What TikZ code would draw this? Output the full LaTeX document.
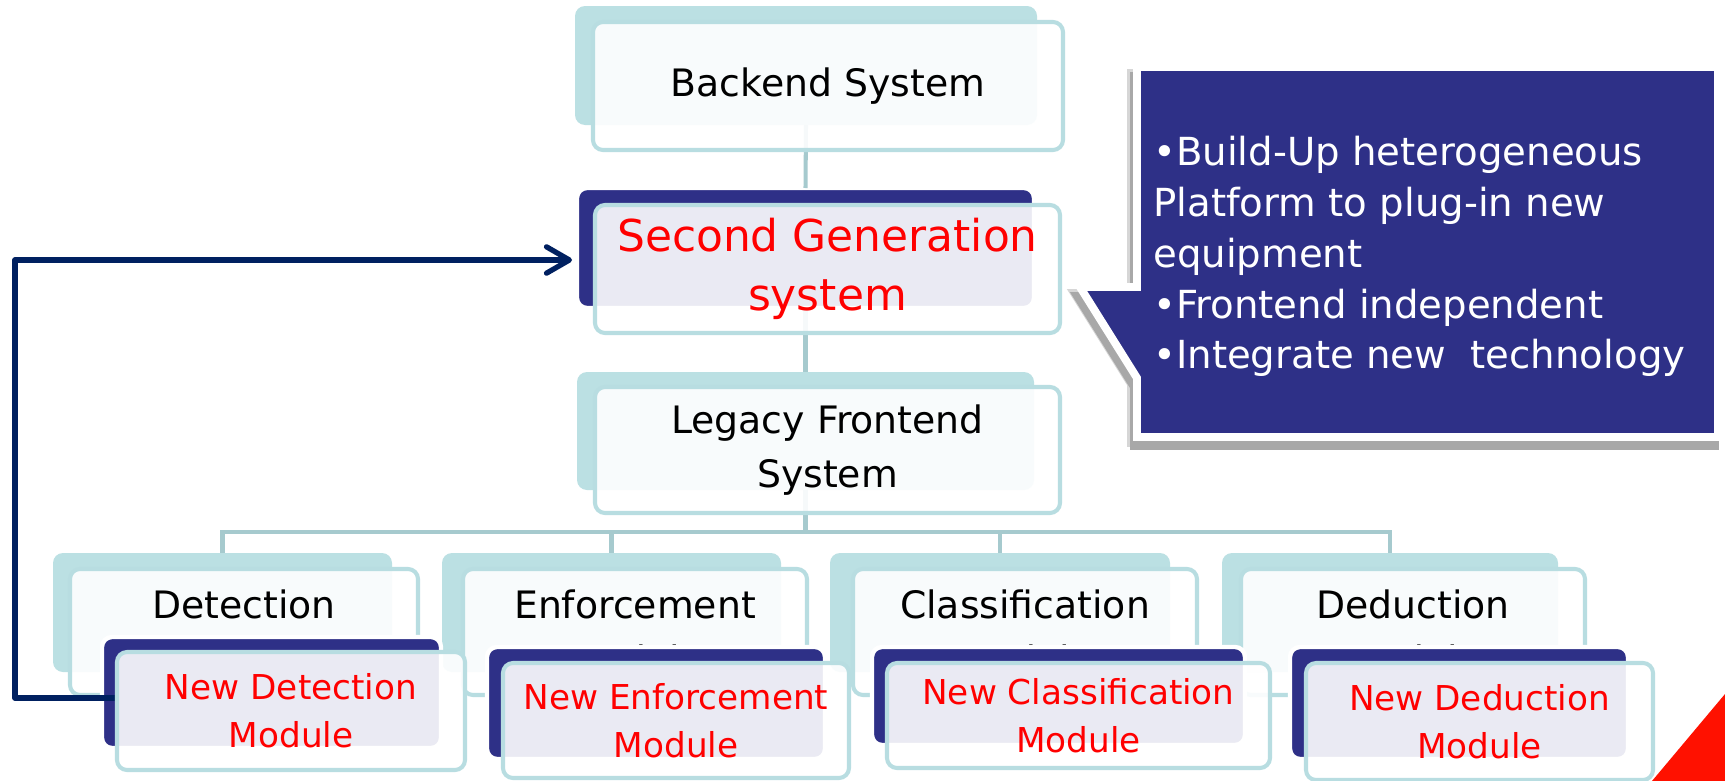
\documentclass[tikz,border=0pt]{standalone}
\usepackage{fontspec}
\setmainfont{DejaVu Sans}
\usetikzlibrary{arrows.meta,calc}
\definecolor{tealback}{HTML}{BBE0E3}
\definecolor{tealedge}{HTML}{B8DDE1}
\definecolor{linkcol}{HTML}{A6CACE}
\definecolor{navy}{HTML}{2E3087}
\definecolor{flowcol}{HTML}{002060}
\definecolor{shadowcol}{HTML}{A8A8A8}
\definecolor{shadowsoft}{HTML}{D6D6D6}
\definecolor{cornerred}{HTML}{FF1100}
\begin{document}
\begin{tikzpicture}[x=0.02cm,y=-0.02cm,
  boxsize/.style 2 args={minimum width=#1*0.02cm, minimum height=#2*0.02cm},
  base/.style={rectangle, rounded corners=0.2cm, inner sep=0pt, outer sep=0pt},
  backlight/.style={base, fill=tealback},
  backdark/.style={base, fill=navy, draw=white, line width=2.5pt},
  front/.style={base, draw=tealedge, line width=2.3pt, fill=white,
    fill opacity=0.9, text opacity=1, align=center},
  maintext/.style={font=\fontsize{21.5}{31}\selectfont, text=black},
  bigred/.style={font=\fontsize{25}{34}\selectfont, text=red},
  newtext/.style={font=\fontsize{19.5}{27.2}\selectfont, text=red},
  link/.style={draw=linkcol, line width=2.3pt},
  flow/.style={draw=flowcol, line width=3pt, line join=round,
    -{Straight Barb[length=13pt, width=15pt, line cap=round, line join=round]}},
  calloutshape/.style={line width=4.5pt, line join=miter},
]
\useasboundingbox (0,0) rectangle (1725,781);
\fill[white] (0,0) rectangle (1725,781);

% decorative corner
\fill[cornerred] (1652,781) -- (1725,694) -- (1725,781) -- cycle;

% back plates of the hierarchy
\node[backlight, boxsize={462}{119}] (bkBack) at (806,65.5) {};
\node[backdark,  boxsize={457}{120}] (bkSec)  at (805.5,248) {};
\node[backlight, boxsize={457}{118}] (bkLeg)  at (805.5,431) {};
\node[backlight, boxsize={339}{119}] (bkDet)  at (222.5,612.5) {};
\node[backlight, boxsize={339}{119}] (bkEnf)  at (611.5,612.5) {};
\node[backlight, boxsize={340}{119}] (bkCla)  at (1000,612.5) {};
\node[backlight, boxsize={336}{119}] (bkDed)  at (1390,612.5) {};

% tree connectors
\coordinate (bus) at (805.5,532);
\draw[link] (bkBack.south) -- (bkSec.north);
\draw[link] (bkSec.south) -- (bkLeg.north);
\draw[link] (bkLeg.south) -- (bus);
\draw[link] (bus) -| (bkDet.north);
\draw[link] (bus) -| (bkEnf.north);
\draw[link] (bus) -| (bkCla.north);
\draw[link] (bus) -| (bkDed.north);

% labelled front plates
\node[front, boxsize={470}{128}, maintext] (Back) at (828,86) {Backend System};
\node[front, boxsize={465}{128}, bigred] (Sec) at (827.5,269) {Second Generation\\system};
\node[front, boxsize={465}{126}, maintext] (Leg) at (827.5,450) {Legacy Frontend\\System};
\node[front, boxsize={348}{126}, maintext] (Det) at (244,632) {Detection\\Module};
\node[front, boxsize={344}{126}, maintext] (Enf) at (635,632) {Enforcement\\Module};
\node[front, boxsize={344}{126}, maintext] (Cla) at (1025,632) {Classification\\Module};
\node[front, boxsize={344}{126}, maintext] (Ded) at (1413,632) {Deduction\\Module};

% new modules
\node[backdark, boxsize={339}{111}] (bkNDet) at (271.5,692.5) {};
\coordinate (turn) at (15,260);
\draw[flow] ($(bkNDet.west)+(15,5.5)$) -| (turn) -- ($(bkSec.west)+(-5,12)$);
\node[front, boxsize={348}{118}, newtext] (NDet) at (291,711) {New Detection\\Module};

\node[backdark, boxsize={338}{112}] (bkNEnf) at (656,703) {};
\node[front, boxsize={346}{115}, newtext] (NEnf) at (676,720.5) {New Enforcement\\Module};

\node[backdark, boxsize={373}{98}] (bkNCla) at (1058.5,696) {};
\node[front, boxsize={383}{105}, newtext] (NCla) at (1078.5,715.5) {New Classification\\Module};

\node[backdark, boxsize={338}{112}] (bkNDed) at (1459,703) {};
\node[front, boxsize={347}{117}, newtext] (NDed) at (1479.5,721.5) {New Deduction\\Module};

% callout with a soft shadow
\begin{scope}[shift={(-6,6)}]
  \filldraw[fill=shadowsoft, draw=shadowsoft, calloutshape]
    (1137,67) -- (1718,67) -- (1718,437) -- (1137,437) -- (1137,378)
    -- (1080,287) -- (1137,287) -- cycle;
\end{scope}
\begin{scope}[shift={(-3,9)}]
  \filldraw[fill=shadowcol, draw=shadowcol, calloutshape]
    (1137,67) -- (1718,67) -- (1718,437) -- (1137,437) -- (1137,378)
    -- (1080,287) -- (1137,287) -- cycle;
\end{scope}
\filldraw[fill=navy, draw=white, calloutshape]
  (1137,67) -- (1718,67) -- (1718,437) -- (1137,437) -- (1137,378)
  -- (1080,287) -- (1137,287) -- cycle;
\node[anchor=north west, inner sep=0pt, align=left, text=white,
  font=\fontsize{22}{28.9}\selectfont] (note) at (1153,136)
  {•Build-Up heterogeneous\\Platform to plug-in new\\equipment\\•Frontend independent\\•Integrate new\ \ technology};
\end{tikzpicture}
\end{document}
